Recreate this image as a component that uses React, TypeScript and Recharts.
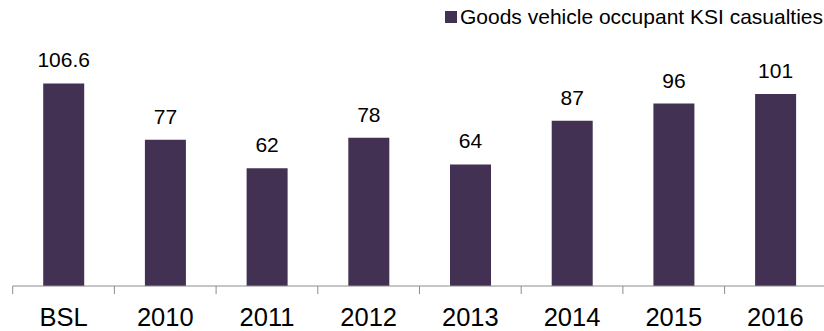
import { Bar, BarChart, LabelList, XAxis, YAxis } from "recharts";

const categories = ["BSL", "2010", "2011", "2012", "2013", "2014", "2015", "2016"];
const casualties = [106.6, 77, 62, 78, 64, 87, 96, 101];
const seriesName = "Goods vehicle occupant KSI casualties";

const BAR_COLOR = "#423152";
const AXIS_COLOR = "#8c8c8c";

const data = categories.map((name, i) => ({ name, value: casualties[i] }));

// Excel-style axis: ticks sit between categories, label centred under the bar
function BetweenTick(props: any) {
  const { x, y, payload } = props;
  const half = payload && payload.offset ? payload.offset : 50.85;
  return (
    <g>
      <line x1={x - half} y1={y} x2={x - half} y2={y + 8} stroke={AXIS_COLOR} />
      <text x={x} y={y + 39.5} textAnchor="middle" fontSize={25.5} fill="#000">
        {payload.value}
      </text>
    </g>
  );
}

export default function App() {
  return (
    <div
      style={{
        position: "absolute",
        left: 0,
        top: 0,
        width: 824,
        height: 331,
        overflow: "hidden",
        background: "#fff",
        fontFamily: "'Liberation Sans', Arial, sans-serif",
      }}
    >
      <div
        style={{
          position: "absolute",
          left: 445,
          top: 6,
          display: "flex",
          alignItems: "flex-start",
          whiteSpace: "nowrap",
          fontSize: 21,
          lineHeight: "21px",
          color: "#000",
        }}
      >
        <span
          style={{
            display: "inline-block",
            width: 12,
            height: 12,
            marginTop: 5,
            marginRight: 3,
            background: BAR_COLOR,
          }}
        />
        <span>{seriesName}</span>
      </div>
      <BarChart
        width={840}
        height={331}
        data={data}
        margin={{ top: 58, right: 13.7, left: 12.7, bottom: 0 }}
        barCategoryGap="30%"
      >
        <XAxis
          dataKey="name"
          height={45}
          tickLine={false}
          tickSize={0}
          tickMargin={0}
          axisLine={{ stroke: AXIS_COLOR }}
          tick={<BetweenTick />}
          interval={0}
        />
        <YAxis hide domain={[0, 120]} />
        <Bar dataKey="value" name={seriesName} fill={BAR_COLOR} isAnimationActive={false}>
          <LabelList dataKey="value" position="top" offset={16} fontSize={21} fill="#000" />
        </Bar>
      </BarChart>
    </div>
  );
}
